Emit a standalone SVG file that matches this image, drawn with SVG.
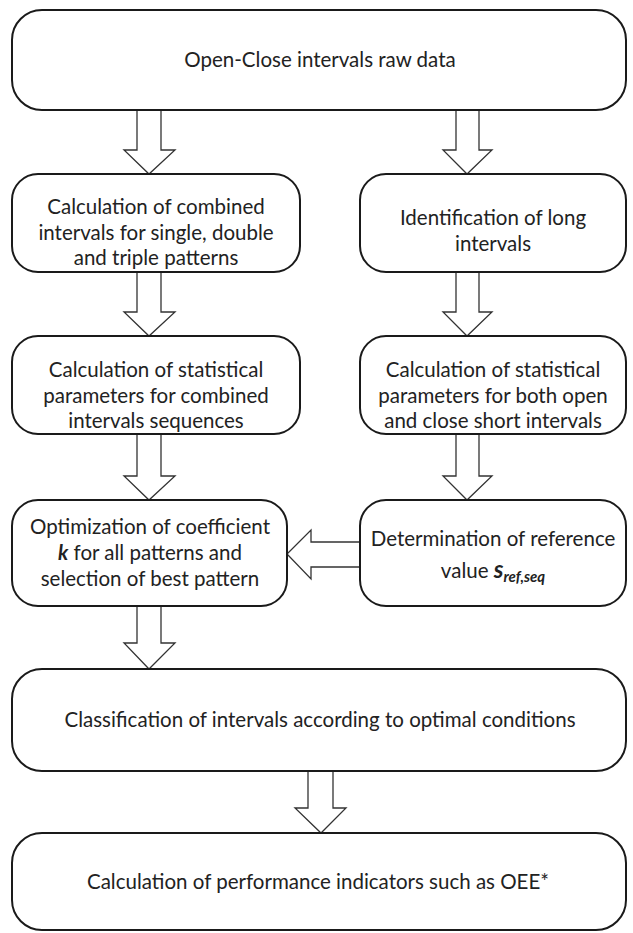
<svg xmlns="http://www.w3.org/2000/svg" width="633" height="933" viewBox="0 0 633 933">
<style>
.box{fill:#fff;stroke:#1a1a1a;stroke-width:2}
.arr{fill:#fff;stroke:#333;stroke-width:1.3;stroke-linejoin:miter}
text{font-family:Lato,"Open Sans","Liberation Sans",sans-serif;font-size:20.5px;fill:#222;text-anchor:middle}
.bi{font-weight:bold;font-style:italic}
</style>
<rect width="633" height="933" fill="#fff"/>
<g id="connectors">
<polygon class="arr" points="137,110 161,110 161,150 175,150 149,174 124,150 137,150"/>
<polygon class="arr" points="456,110 479,110 479,150 492,150 467,174 443,150 456,150"/>
<polygon class="arr" points="137,272 161,272 161,312 175,312 149,336 124,312 137,312"/>
<polygon class="arr" points="456,272 479,272 479,312 492,312 467,336 443,312 456,312"/>
<polygon class="arr" points="137,434 161,434 161,476 175,476 149,500 124,476 137,476"/>
<polygon class="arr" points="456,434 479,434 479,476 492,476 467,500 443,476 456,476"/>
<polygon class="arr" points="360,542 311,542 311,530 287,554 311,579 311,567 360,567"/>
<polygon class="arr" points="137,606 161,606 161,643 175,643 149,669 124,643 137,643"/>
<polygon class="arr" points="308,771 333,771 333,808 346,808 321,833 295,808 308,808"/>
</g>
<g id="n1"><rect class="box" x="12" y="10" width="614" height="100" rx="30"/><text x="320" y="67">Open-Close intervals raw data</text></g>
<g id="n2"><rect class="box" x="12" y="174" width="288" height="98" rx="26"/>
<text x="156" y="214">Calculation of combined</text><text x="156" y="240">intervals for single, double</text><text x="156" y="265">and triple patterns</text></g>
<g id="n3"><rect class="box" x="360" y="174" width="266" height="98" rx="26"/>
<text x="493" y="225">Identification of long</text><text x="493" y="251">intervals</text></g>
<g id="n4"><rect class="box" x="12" y="336" width="288" height="98" rx="26"/>
<text x="156" y="377">Calculation of statistical</text><text x="156" y="403">parameters for combined</text><text x="156" y="428">intervals sequences</text></g>
<g id="n5"><rect class="box" x="360" y="336" width="266" height="98" rx="26"/>
<text x="493" y="377">Calculation of statistical</text><text x="493" y="403">parameters for both open</text><text x="493" y="428">and close short intervals</text></g>
<g id="n6"><rect class="box" x="12" y="500" width="275" height="106" rx="26"/>
<text x="150" y="534">Optimization of coefficient</text><text x="150" y="560"><tspan class="bi">k</tspan> for all patterns and</text><text x="150" y="586">selection of best pattern</text></g>
<g id="n7"><rect class="box" x="360" y="500" width="266" height="106" rx="26"/>
<text x="493" y="546">Determination of reference</text><text x="493" y="578">value <tspan class="bi" font-size="24">s</tspan><tspan class="bi" font-size="15" dy="4">ref,seq</tspan></text></g>
<g id="n8"><rect class="box" x="12" y="669" width="614" height="102" rx="30"/><text x="320" y="727">Classification of intervals according to optimal conditions</text></g>
<g id="n9"><rect class="box" x="12" y="833" width="614" height="97" rx="30"/><text x="318" y="889">Calculation of performance indicators such as OEE*</text></g>
</svg>
